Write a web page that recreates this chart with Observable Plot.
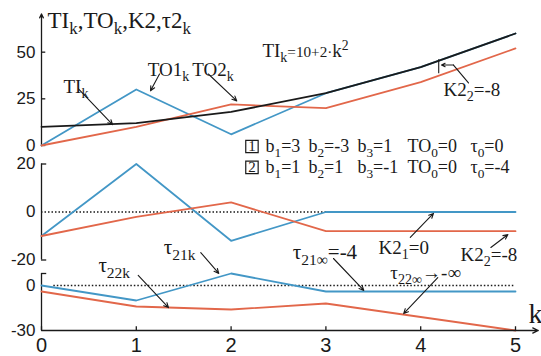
<!DOCTYPE html>
<html><head><meta charset="utf-8">
<script src="https://cdn.jsdelivr.net/npm/d3@7"></script>
<script src="https://cdn.jsdelivr.net/npm/@observablehq/plot@0.6"></script>
<style>
body{margin:0;background:#fff;}
#chart{position:relative;width:541px;height:356px;background:#fff;}
#chart svg{position:absolute;left:0;top:0;}
</style></head><body><div id="chart"></div>
<script>
// ---- data ----
const k = [0, 1, 2, 3, 4, 5];
const TI = [10, 12, 18, 28, 42, 60];      // TI_k = 10 + 2k^2
const TO1 = [0, 30, 6, 28, 42, 60];
const TO2 = [0, 10, 22, 20, 34, 52];
const K21 = [-10, 20, -12, 0, 0, 0];
const K22 = [-10, -2, 4, -8, -8, -8];
const tau21 = [0, -10, 8, -4, -4, -4];
const tau22 = [-4, -14, -16, -12, -21, -30];
const topTicks = [0, 25, 50];
const midTicks = [-20, 0, 20];
const botTicks = [-30, 0];
const xTicks = [0, 1, 2, 3, 4, 5];

const BLUE = "#4397c6", ORANGE = "#e2674a", BLACK = "#1a1a1a";
const SERIF = "Liberation Serif", SANS = "Liberation Sans";
const rows = s => k.map((x, i) => ({x, y: s[i]}));

function line(s, color, w = 1.8) {
  return Plot.line(rows(s), {x: "x", y: "y", stroke: color, strokeWidth: w});
}
function arrows(list) {
  return Plot.arrow(list.map(([x1, y1, x2, y2]) => ({x1, y1, x2, y2})),
    {x1: "x1", y1: "y1", x2: "x2", y2: "y2", stroke: BLACK, strokeWidth: 1.1, headLength: 7, headAngle: 50});
}
function labels(list, fs = 19, family = SERIF) {
  return Plot.text(list.map(([text, x, y]) => ({text, x, y})),
    {x: "x", y: "y", text: "text", textAnchor: "start", lineAnchor: "middle", fontSize: fs, fontFamily: family, fill: BLACK});
}
function yAxis(ticks) {
  return Plot.axisY(ticks, {tickSize: 0, tickPadding: 6, fontSize: 17, fontFamily: SANS, tickFormat: d => String(d), fill: BLACK});
}
function panel(mt, mb, ydom, marks) {
  return Plot.plot({
    width: 541, height: 356, marginLeft: 41, marginRight: 26, marginTop: mt, marginBottom: mb,
    x: {domain: [0, 5], axis: null}, y: {domain: ydom, axis: null},
    style: {background: "transparent", overflow: "visible"},
    marks
  });
}

// ---- top panel ----
const pTop = panel(13.4, 211, [0, 70.5], [
  Plot.arrow([{}], {x1: 0, x2: 0, y1: 0, y2: 70.5, stroke: BLACK, strokeWidth: 1.3, headLength: 5, headAngle: 50}),
  Plot.ruleY(topTicks, {x1: 0, x2: 0.045, stroke: BLACK, strokeWidth: 1.3}),
  yAxis(topTicks),
  line(TO1, BLUE),
  line(TO2, ORANGE),
  line(TI, BLACK),
  Plot.ruleX([4.19], {y1: 38.5, y2: 46, stroke: BLACK, strokeWidth: 1.1}),
  Plot.line([{x: 4.504, y: 33.5}, {x: 4.346, y: 43.1}], {x: "x", y: "y", stroke: BLACK, strokeWidth: 1.1}),
  arrows([[0.39, 30.3, 0.75, 11.2], [1.245, 38.3, 1.15, 29.3], [1.76, 38.3, 2.06, 23.9], [4.346, 43.1, 4.219, 43.1]]),
  labels([["TI_{k},TO_{k},K2,τ2_{k}", 0.063, 66.8]], 23),
  labels([["TI_{k}", 0.232, 31.4], ["TO1_{k}", 1.12, 40.7], ["TO2_{k}", 1.59, 40.7], ["K2_{2}=-8", 4.24, 29.8]], 19),
  labels([["TI_{k}~{=10+2·}k^{2}", 2.33, 50.5]], 19),
  Plot.dot([{x: 2.22, y: -0.53}, {x: 2.22, y: -11.7}], {x: "x", y: "y", symbol: "square", r: 7, stroke: BLACK, strokeWidth: 1.2, fill: "white"}),
  labels([["1", 2.182, -0.53], ["2", 2.182, -11.7]], 15),
  labels([["b_{1}=3", 2.363, -0.53], ["b_{2}=-3", 2.816, -0.53], ["b_{3}=1", 3.333, -0.53], ["TO_{0}=0", 3.861, -0.53], ["τ_{0}=0", 4.525, -0.53],
          ["b_{1}=1", 2.363, -11.7], ["b_{2}=1", 2.816, -11.7], ["b_{3}=-1", 3.333, -11.7], ["TO_{0}=0", 3.861, -11.7], ["τ_{0}=-4", 4.525, -11.7]], 18)
]);

// ---- middle panel ----
const pMid = panel(163.5, 96.5, [-20, 20], [
  Plot.ruleX([0], {y1: -20, y2: 20, stroke: BLACK, strokeWidth: 1.3}),
  Plot.ruleY([-20, 20], {x1: 0, x2: 0.055, stroke: BLACK, strokeWidth: 1.3}),
  yAxis(midTicks),
  Plot.ruleY([0], {x1: 0, x2: 5, stroke: BLACK, strokeWidth: 1.4, strokeDasharray: "1.5,2"}),
  line(K21, BLUE),
  line(K22, ORANGE),
  arrows([[3.89, -10.6, 4.135, -0.6], [4.74, -14.8, 4.92, -9.4], [1.68, -16.9, 1.87, -25.6]]),
  labels([["K2_{1}=0", 3.555, -14.8], ["K2_{2}=-8", 4.42, -18.0]], 19),
  labels([["τ_{21k}", 1.29, -14.8], ["τ_{21∞}=-4", 2.65, -16.9]], 21)
]);

// ---- bottom panel ----
const pBot = panel(273, 26, [-30, 8], [
  Plot.ruleX([0], {y1: -30, y2: 8, stroke: BLACK, strokeWidth: 1.3}),
  Plot.ruleY([8], {x1: 0, x2: 0.055, stroke: BLACK, strokeWidth: 1.3}),
  yAxis(botTicks),
  Plot.ruleY([0], {x1: 0.13, x2: 5, stroke: BLACK, strokeWidth: 1.4, strokeDasharray: "1.5,2"}),
  line(tau21, BLUE),
  line(tau22, ORANGE),
  Plot.arrow([{}], {x1: 0, x2: 5.24, y1: -30, y2: -30, stroke: BLACK, strokeWidth: 1.3, headLength: 7, headAngle: 50}),
  Plot.ruleX(xTicks, {y1: -30, y2: -27.5, stroke: BLACK, strokeWidth: 1.3}),
  Plot.axisX(xTicks, {y: -30, tickSize: 0, tickPadding: 7, fontSize: 20, fontFamily: SANS, fill: BLACK}),
  arrows([[3.08, 18, 3.40, -3.3], [4.18, 5.3, 3.82, -18.7], [1.02, 6.7, 1.34, -14.7]]),
  labels([["τ_{22∞}→-∞", 3.68, 8.2]], 19),
  labels([["τ_{22k}", 0.60, 13.3]], 21),
  labels([["k", 5.137, -18.7]], 28)
]);

const chart = document.getElementById("chart");
chart.append(pTop, pMid, pBot);

// rich text: _{sub}, ^{sup}, ~{smaller}
const NS = "http://www.w3.org/2000/svg";
function rich(svg) {
  svg.querySelectorAll("text").forEach(t => {
    const s = t.textContent;
    if (!/[_^~]\{/.test(s)) return;
    const fs = parseFloat(getComputedStyle(t).fontSize);
    const re = /([_^~])\{([^}]*)\}/g;
    const parts = [];
    let last = 0, m;
    while ((m = re.exec(s))) {
      if (m.index > last) parts.push(["", s.slice(last, m.index)]);
      parts.push([m[1], m[2]]);
      last = m.index + m[0].length;
    }
    if (last < s.length) parts.push(["", s.slice(last)]);
    t.textContent = "";
    let cur = 0;
    for (const [op, txt] of parts) {
      const ts = document.createElementNS(NS, "tspan");
      let target = 0, size = fs;
      if (op === "_") { target = 0.26 * fs; size = 0.74 * fs; }
      else if (op === "^") { target = -0.4 * fs; size = 0.72 * fs; }
      else if (op === "~") { size = 0.8 * fs; }
      ts.setAttribute("font-size", size);
      if (target !== cur) { ts.setAttribute("dy", target - cur); cur = target; }
      ts.textContent = txt;
      t.appendChild(ts);
    }
  });
}
[pTop, pMid, pBot].forEach(rich);
</script></body></html>
